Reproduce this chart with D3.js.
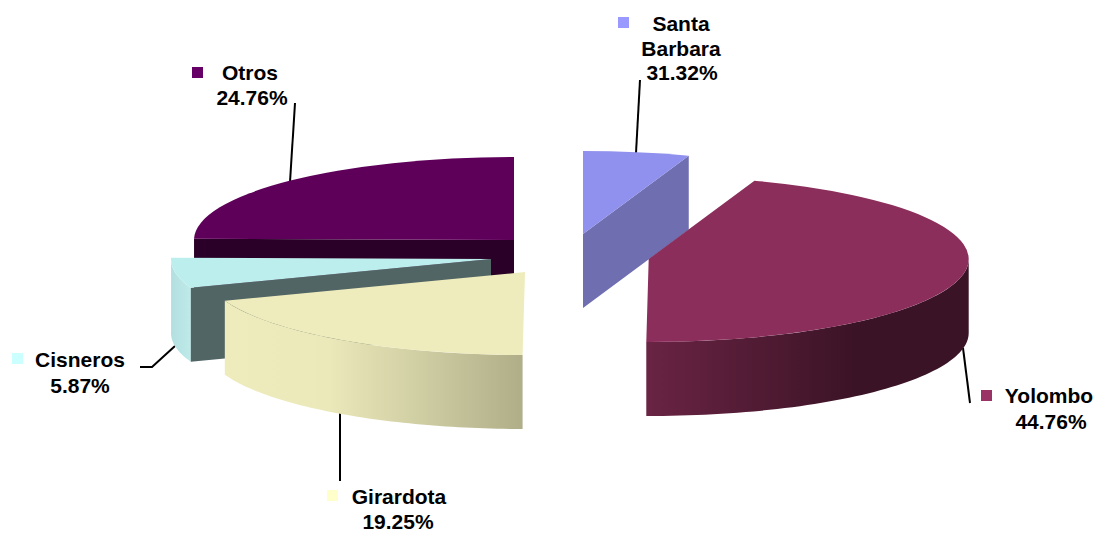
<!DOCTYPE html>
<html>
<head>
<meta charset="utf-8">
<script src="https://cdn.jsdelivr.net/npm/d3@7"></script>
<style>
html,body{margin:0;padding:0;background:#fff;overflow:hidden}
svg{display:block}
text{font-family:"Liberation Sans",Arial,sans-serif;font-weight:700;font-size:21px;fill:#000;text-anchor:middle}
</style>
</head>
<body>
<svg id="chart" width="1103" height="539"></svg>
<script>
// Data. Slice sizes follow the drawn wedges; labels are as printed.
const categories = ["Santa Barbara", "Yolombo", "Girardota", "Cisneros", "Otros"];
const sliceShares = [5.36, 44.76, 19.25, 5.87, 24.76];
const printedLabels = ["31.32%", "44.76%", "19.25%", "5.87%", "24.76%"];

// Style and layout, kept apart from the data
const keyColors = ["#9999ff", "#993366", "#ffffcc", "#ccffff", "#660066"];
const topColors = ["#9090ee", "#8c2e5c", "#eeecbc", "#bdeeee", "#5e0059"];
const faceColors = ["#6e6eb0", null, null, "#526565", "#2a0028"];
const wallStops = [
  null,
  [[0, "#6a2444"], [0.65, "#3b1326"], [1, "#3b1326"]],
  [[0, "#eeecbc"], [0.35, "#ebe9ba"], [1, "#b0ae88"]],
  [[0, "#b4dfe0"], [1, "#bfeaea"]],
  null
];
const centers = [[583, 234], [648.7, 259], [525, 272], [491, 259], [514, 240]];
const faceEdge = ["end", null, null, "start", "start"];
const drawOrder = [4, 3, 2, 0, 1];
const rx = 320, ry = 83, depth = 74;
const labelLines = [
  [["Santa", 681, 31], ["Barbara", 681, 56], [printedLabels[0], 682, 80]],
  [["Yolombo", 1049, 403], [printedLabels[1], 1051, 429]],
  [["Girardota", 399, 504], [printedLabels[2], 398, 529]],
  [["Cisneros", 80, 367], [printedLabels[3], 80, 393]],
  [["Otros", 250, 80], [printedLabels[4], 252, 105]]
];
const keyBoxes = [[618, 17], [981, 390], [327, 490], [12, 353], [192, 67]];
const leaders = [
  [[640, 80], [636, 153]],
  [[963, 348], [970, 403]],
  [[340, 413], [340, 481]],
  [[175, 346], [152, 367], [140, 367]],
  [[295, 103], [290, 182]]
];

const svg = d3.select("#chart");
const defs = svg.append("defs");
const slices = d3.pie().sort(null).value(d => d)(sliceShares);

const pt = (i, a, dz = 0) => [
  centers[i][0] + rx * Math.sin(a),
  centers[i][1] - ry * Math.cos(a) + dz
];
const line = d3.line();
const arc = d3.arc().innerRadius(0).outerRadius(rx);

// Leader lines
svg.append("g").selectAll("path").data(leaders).join("path")
  .attr("d", d => line(d)).attr("fill", "none").attr("stroke", "#000").attr("stroke-width", 2);

// Gradients for the curved walls
wallStops.forEach((stops, i) => {
  if (!stops) return;
  const g = defs.append("linearGradient").attr("id", "wall" + i)
    .attr("x1", 0).attr("x2", 1).attr("y1", 0).attr("y2", 0);
  stops.forEach(s => g.append("stop").attr("offset", s[0]).attr("stop-color", s[1]));
});

// Slices, back to front
drawOrder.forEach(i => {
  const s = slices[i];
  const g = svg.append("g").attr("class", "slice");
  if (wallStops[i]) {
    const a0 = Math.max(s.startAngle, Math.PI / 2);
    const angles = d3.range(0, 61).map(k => a0 + (s.endAngle - a0) * k / 60);
    const outline = angles.map(a => pt(i, a)).concat(angles.slice().reverse().map(a => pt(i, a, depth)));
    g.append("path").attr("d", line(outline) + "Z").attr("fill", `url(#wall${i})`);
  }
  if (faceEdge[i]) {
    const a = faceEdge[i] === "start" ? s.startAngle : s.endAngle;
    const c = centers[i];
    const e = pt(i, a);
    g.append("path")
      .attr("d", line([c, e, [e[0], e[1] + depth], [c[0], c[1] + depth]]) + "Z")
      .attr("fill", faceColors[i]);
  }
  g.append("path")
    .attr("d", arc({startAngle: s.startAngle, endAngle: s.endAngle}))
    .attr("transform", `translate(${centers[i][0]},${centers[i][1]}) scale(1,${ry / rx})`)
    .attr("fill", topColors[i]);
});

// Legend keys and labels
svg.append("g").selectAll("rect").data(keyBoxes).join("rect")
  .attr("x", d => d[0]).attr("y", d => d[1]).attr("width", 11).attr("height", 11)
  .attr("fill", (d, i) => keyColors[i]);
svg.append("g").selectAll("text").data(labelLines.flat()).join("text")
  .attr("x", d => d[1]).attr("y", d => d[2]).text(d => d[0]);
</script>
</body>
</html>
